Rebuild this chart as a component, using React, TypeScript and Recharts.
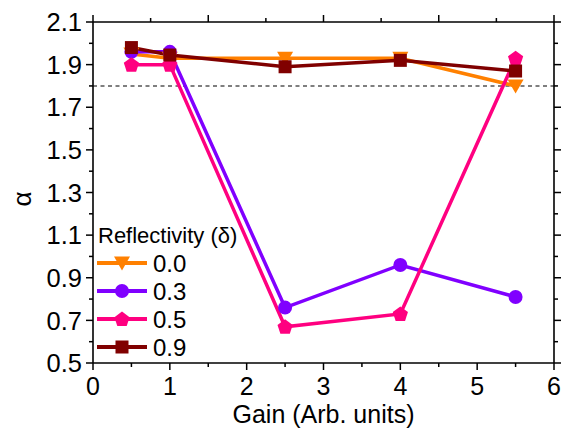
import { LineChart, Line, XAxis, YAxis, ReferenceLine, Legend, Label } from 'recharts';

const gains = [0.5, 1, 2.5, 4, 5.5];
const alpha00 = [1.95, 1.93, 1.93, 1.93, 1.80];
const alpha03 = [1.96, 1.96, 0.76, 0.96, 0.81];
const alpha05 = [1.9, 1.9, 0.67, 0.73, 1.93];
const alpha09 = [1.98, 1.945, 1.89, 1.92, 1.87];
const reflectivities = ['0.0', '0.3', '0.5', '0.9'];
const xTicks = [0, 0.5, 1, 1.5, 2, 2.5, 3, 3.5, 4, 4.5, 5, 5.5, 6];
const yTicks = [0.5, 0.6, 0.7, 0.8, 0.9, 1.0, 1.1, 1.2, 1.3, 1.4, 1.5, 1.6, 1.7, 1.8, 1.9, 2.0, 2.1];
const thresholdAlpha = 1.8;

const FONT = '"Liberation Sans", Arial, sans-serif';

const data = gains.map((gain, i) => ({
  gain,
  r00: alpha00[i],
  r03: alpha03[i],
  r05: alpha05[i],
  r09: alpha09[i],
}));

type ShapeKind = 'triangle' | 'circle' | 'pentagon' | 'square';

const series: { key: string; name: string; color: string; shape: ShapeKind }[] = [
  { key: 'r00', name: reflectivities[0], color: '#FF8000', shape: 'triangle' },
  { key: 'r03', name: reflectivities[1], color: '#8000FF', shape: 'circle' },
  { key: 'r05', name: reflectivities[2], color: '#FF0080', shape: 'pentagon' },
  { key: 'r09', name: reflectivities[3], color: '#800000', shape: 'square' },
];

function Marker({ cx, cy, shape, color }: { cx: number; cy: number; shape: ShapeKind; color: string }) {
  if (shape === 'circle') return <circle cx={cx} cy={cy} r={7} fill={color} />;
  if (shape === 'square') return <rect x={cx - 6.5} y={cy - 6.5} width={13} height={13} fill={color} />;
  if (shape === 'triangle') {
    return <polygon points={`${cx - 8},${cy - 6.5} ${cx + 8},${cy - 6.5} ${cx},${cy + 7.5}`} fill={color} />;
  }
  const r = 8;
  const pts = [0, 1, 2, 3, 4]
    .map((k) => {
      const a = -Math.PI / 2 + (k * 2 * Math.PI) / 5;
      return `${cx + r * Math.cos(a)},${cy + 0.6 + r * Math.sin(a)}`;
    })
    .join(' ');
  return <polygon points={pts} fill={color} />;
}

function isMajorX(v: number) {
  return Math.abs(v - Math.round(v)) < 1e-6;
}
function isMajorY(v: number) {
  return Math.round(v * 10) % 2 === 1;
}

function AxisTick(props: any) {
  const { x, y, payload, side, labels } = props;
  const v = payload.value as number;
  const vertical = side === 'left' || side === 'right';
  const major = vertical ? isMajorY(v) : isMajorX(v);
  const len = major ? 7 : 4;
  let line;
  if (side === 'bottom') line = <line x1={x} y1={y} x2={x} y2={y + len} />;
  else if (side === 'top') line = <line x1={x} y1={y} x2={x} y2={y - len} />;
  else if (side === 'left') line = <line x1={x} y1={y} x2={x - len} y2={y} />;
  else line = <line x1={x} y1={y} x2={x + len} y2={y} />;
  return (
    <g stroke="#000" strokeWidth={1.5}>
      {line}
      {labels && major && side === 'bottom' && (
        <text x={x} y={y + 31.5} textAnchor="middle" fill="#000" stroke="none" fontSize={25} fontFamily={FONT}>
          {v}
        </text>
      )}
      {labels && major && side === 'left' && (
        <text x={x - 11} y={y + 9.2} textAnchor="end" fill="#000" stroke="none" fontSize={25.5} fontFamily={FONT}>
          {v.toFixed(1)}
        </text>
      )}
    </g>
  );
}

function LegendBox() {
  return (
    <svg width={170} height={140} style={{ display: 'block' }}>
      <text x={3} y={23} fontSize={22} fontFamily={FONT} fill="#000">
        Reflectivity (δ)
      </text>
      {series.map((s, i) => {
        const cy = 43 + i * 28;
        return (
          <g key={s.key}>
            <line x1={2} y1={cy} x2={52} y2={cy} stroke={s.color} strokeWidth={4} />
            <Marker cx={27} cy={cy} shape={s.shape} color={s.color} />
            <text x={58} y={cy + 8.5} fontSize={24} fontFamily={FONT} fill="#000">
              {s.name}
            </text>
          </g>
        );
      })}
    </svg>
  );
}

export default function App() {
  return (
    <div style={{ position: 'absolute', left: 0, top: 0, background: '#fff' }}>
      <LineChart width={572} height={429} data={data} margin={{ top: 12, right: 10, bottom: 6, left: 8 }}>
        <XAxis
          dataKey="gain"
          type="number"
          domain={[0, 6]}
          ticks={xTicks}
          interval={0}
          allowDataOverflow
          height={60}
          tickSize={0}
          tickMargin={0}
          tickLine={false}
          axisLine={{ stroke: '#000', strokeWidth: 1.6 }}
          tick={<AxisTick side="bottom" labels />}
        >
          <Label
            value="Gain (Arb. units)"
            position="insideBottom"
            offset={0}
            style={{ fontSize: 25, fontFamily: FONT, fill: '#000' }}
          />
        </XAxis>
        <XAxis
          xAxisId="top"
          orientation="top"
          type="number"
          domain={[0, 6]}
          ticks={xTicks}
          interval={0}
          allowDataOverflow
          height={10}
          tickSize={0}
          tickMargin={0}
          tickLine={false}
          axisLine={{ stroke: '#000', strokeWidth: 1.6 }}
          tick={<AxisTick side="top" />}
        />
        <YAxis
          type="number"
          domain={[0.5, 2.1]}
          ticks={yTicks}
          interval={0}
          allowDataOverflow
          width={85}
          tickSize={0}
          tickMargin={0}
          tickLine={false}
          axisLine={{ stroke: '#000', strokeWidth: 1.6 }}
          tick={<AxisTick side="left" labels />}
        >
          <Label
            content={() => (
              <text
                x={22}
                y={199}
                transform="rotate(-90 22 199)"
                textAnchor="middle"
                dominantBaseline="central"
                fontSize={26}
                fontFamily={FONT}
                fill="#000"
              >
                α
              </text>
            )}
          />
        </YAxis>
        <YAxis
          yAxisId="right"
          orientation="right"
          type="number"
          domain={[0.5, 2.1]}
          ticks={yTicks}
          interval={0}
          allowDataOverflow
          width={8}
          tickSize={0}
          tickMargin={0}
          tickLine={false}
          axisLine={{ stroke: '#000', strokeWidth: 1.6 }}
          tick={<AxisTick side="right" />}
        />
        <ReferenceLine y={thresholdAlpha} stroke="#555" strokeWidth={1.5} strokeDasharray="4 3.5" />
        {series.map((s) => (
          <Line
            key={s.key}
            dataKey={s.key}
            name={s.name}
            type="linear"
            stroke={s.color}
            strokeWidth={3.5}
            isAnimationActive={false}
            activeDot={false}
            dot={(p: any) => (
              <Marker key={`${s.key}-${p.index}`} cx={p.cx} cy={p.cy} shape={s.shape} color={s.color} />
            )}
          />
        ))}
        <Legend
          layout="horizontal"
          verticalAlign="middle"
          align="center"
          content={() => <LegendBox />}
          wrapperStyle={{ left: 95, top: 220, width: 170, height: 140 }}
        />
      </LineChart>
    </div>
  );
}
